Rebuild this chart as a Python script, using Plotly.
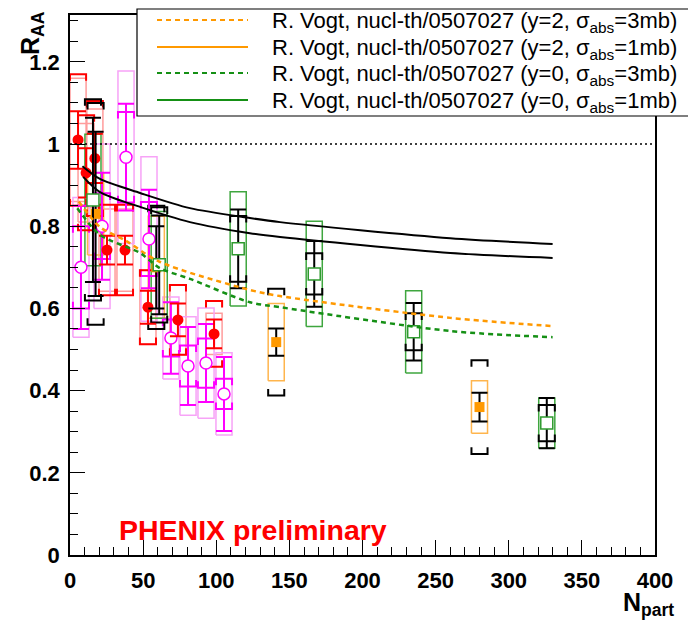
import plotly.graph_objects as go

# ---------------- data ----------------
# Cu+Cu forward rapidity (red filled circles)
cuf_npart = [5.5, 11.0, 17.0, 25.3, 37.6, 53.3, 73.8, 98.5]
cuf_raa = [1.01, 0.93, 0.965, 0.742, 0.742, 0.603, 0.572, 0.538]
cuf_stat = [0.07, 0.06, 0.06, 0.035, 0.035, 0.04, 0.04, 0.035]
cuf_sysb = [0.16, 0.14, 0.14, 0.11, 0.11, 0.09, 0.085, 0.08]
cuf_sysc = [0.15, 0.12, 0.12, 0.10, 0.10, 0.09, 0.085, 0.05]

# Cu+Cu mid rapidity (magenta open circles)
cum_npart = [7.5, 21.9, 38.3, 54.0, 69.0, 80.7, 93.0, 105.3]
cum_raa = [0.70, 0.80, 0.968, 0.769, 0.528, 0.46, 0.467, 0.392]
cum_stat = [0.15, 0.13, 0.13, 0.12, 0.087, 0.095, 0.095, 0.09]
cum_sysb = [0.10, 0.08, 0.11, 0.09, 0.045, 0.05, 0.06, 0.037]
cum_sysc = [0.17, 0.20, 0.21, 0.20, 0.10, 0.12, 0.134, 0.10]

# Au+Au forward rapidity (orange filled squares)
auf_npart = [17.5, 59.0, 141.0, 280.0]
auf_raa = [0.83, 0.70, 0.518, 0.36]
auf_stat = [0.20, 0.10, 0.033, 0.035]
auf_sysb = [0.27, 0.15, 0.13, 0.114]
auf_sysc = [0.10, 0.124, 0.094, 0.064]

# Au+Au mid rapidity (green open squares)
aum_npart = [15.7, 61.0, 115.0, 167.0, 235.0, 326.0]
aum_raa = [0.864, 0.706, 0.745, 0.684, 0.543, 0.321]
aum_stat = [0.20, 0.12, 0.096, 0.08, 0.07, 0.061]
aum_sysb = [0.245, 0.14, 0.08, 0.05, 0.045, 0.044]
aum_sysc = [0.16, 0.13, 0.139, 0.128, 0.10, 0.061]

# R. Vogt curves
v_y2_1mb_npart = [8.5, 20.5, 47.9, 82.0, 123.0, 143.6, 260.0, 330.0]
v_y2_1mb_raa = [0.946, 0.915, 0.881, 0.844, 0.820, 0.810, 0.771, 0.757]
v_y0_1mb_npart = [9.0, 20.5, 47.9, 82.0, 123.0, 143.6, 260.0, 330.0]
v_y0_1mb_raa = [0.920, 0.883, 0.847, 0.810, 0.783, 0.774, 0.735, 0.723]
v_y2_3mb_npart = [6.0, 20.5, 37.6, 61.5, 123.0, 143.6, 260.0, 330.0]
v_y2_3mb_raa = [0.860, 0.798, 0.766, 0.713, 0.645, 0.630, 0.577, 0.557]
v_y0_3mb_npart = [5.0, 20.5, 47.9, 61.5, 82.0, 123.0, 143.6, 260.0, 330.0]
v_y0_3mb_raa = [0.844, 0.779, 0.735, 0.698, 0.672, 0.615, 0.603, 0.545, 0.530]

legend_labels = [
    "R. Vogt, nucl-th/0507027 (y=2, σ<sub>abs</sub>=3mb)",
    "R. Vogt, nucl-th/0507027 (y=2, σ<sub>abs</sub>=1mb)",
    "R. Vogt, nucl-th/0507027 (y=0, σ<sub>abs</sub>=3mb)",
    "R. Vogt, nucl-th/0507027 (y=0, σ<sub>abs</sub>=1mb)",
]

x_ticks = [0, 50, 100, 150, 200, 250, 300, 350, 400]
y_ticks = [0, 0.2, 0.4, 0.6, 0.8, 1.0, 1.2]

# ---------------- styling ----------------
FONT = "Liberation Sans, Arial, Helvetica, sans-serif"
HW = 5.5      # half width of boxes / brackets (Npart units)
TK = 0.016    # bracket end tick length (RAA units)

RED, RED_L = "#ff0000", "#ff9c9c"
MAG, MAG_L = "#ff00ff", "#f7a3f7"
ORG, ORG_L = "#ff9900", "#ffb54d"
GRN, GRN_L = "#2e9a2e", "#3fa63f"
ORG_C, GRN_C = "#ff9900", "#159015"


def box_path(xs, ys, es):
    px, py = [], []
    for x, y, e in zip(xs, ys, es):
        px += [x - HW, x + HW, x + HW, x - HW, x - HW, None]
        py += [y - e, y - e, y + e, y + e, y - e, None]
    return px, py


def bracket_path(xs, ys, es):
    px, py = [], []
    for x, y, e in zip(xs, ys, es):
        px += [x - HW, x - HW, x + HW, x + HW, None]
        py += [y + e - TK, y + e, y + e, y + e - TK, None]
        px += [x - HW, x - HW, x + HW, x + HW, None]
        py += [y - e + TK, y - e, y - e, y - e + TK, None]
    return px, py


fig = go.Figure()

# boxes (global systematic)
for xs, ys, es, c in [
    (cuf_npart, cuf_raa, cuf_sysc, RED_L),
    (cum_npart, cum_raa, cum_sysc, MAG_L),
    (auf_npart, auf_raa, auf_sysc, ORG_L),
    (aum_npart, aum_raa, aum_sysc, GRN_L),
]:
    bx, by = box_path(xs, ys, es)
    fig.add_trace(go.Scatter(x=bx, y=by, mode="lines",
                             line=dict(color=c, width=1.5),
                             hoverinfo="skip", showlegend=False))

# brackets
for xs, ys, es, c in [
    (cum_npart, cum_raa, cum_sysb, MAG),
    (cuf_npart, cuf_raa, cuf_sysb, RED),
    (auf_npart, auf_raa, auf_sysb, "black"),
    (aum_npart, aum_raa, aum_sysb, "black"),
]:
    bx, by = bracket_path(xs, ys, es)
    fig.add_trace(go.Scatter(x=bx, y=by, mode="lines",
                             line=dict(color=c, width=2),
                             hoverinfo="skip", showlegend=False))

# points with statistical errors
fig.add_trace(go.Scatter(
    x=cum_npart, y=cum_raa, mode="markers",
    error_y=dict(type="data", array=cum_stat, color=MAG, thickness=2, width=8),
    marker=dict(symbol="circle", size=12, color="white",
                line=dict(color=MAG, width=1.5)),
    showlegend=False))
fig.add_trace(go.Scatter(
    x=cuf_npart, y=cuf_raa, mode="markers",
    error_y=dict(type="data", array=cuf_stat, color=RED, thickness=2, width=8),
    marker=dict(symbol="circle", size=11, color=RED),
    showlegend=False))
fig.add_trace(go.Scatter(
    x=auf_npart, y=auf_raa, mode="markers",
    error_y=dict(type="data", array=auf_stat, color="black", thickness=2, width=8),
    marker=dict(symbol="square", size=10, color=ORG),
    showlegend=False))
fig.add_trace(go.Scatter(
    x=aum_npart, y=aum_raa, mode="markers",
    error_y=dict(type="data", array=aum_stat, color="black", thickness=2, width=8),
    marker=dict(symbol="square", size=12, color="white",
                line=dict(color=GRN, width=1.5)),
    showlegend=False))

# theory curves
for xs, ys, c, d, w in [
    (v_y2_1mb_npart, v_y2_1mb_raa, "black", "solid", 2),
    (v_y0_1mb_npart, v_y0_1mb_raa, "black", "solid", 2),
    (v_y2_3mb_npart, v_y2_3mb_raa, ORG_C, "5px,4px", 2.5),
    (v_y0_3mb_npart, v_y0_3mb_raa, GRN_C, "5px,4px", 2.5),
]:
    fig.add_trace(go.Scatter(x=xs, y=ys, mode="lines",
                             line=dict(color=c, width=w, dash=d, shape="spline",
                                       smoothing=0.8),
                             hoverinfo="skip", showlegend=False))

# reference line at RAA = 1
fig.add_shape(type="line", xref="x domain", yref="y", x0=0, x1=1, y0=1, y1=1,
              line=dict(color="black", width=1.5, dash="2px,3px"))

# ---------------- manual legend (positions relative to the plot area) ----------------
W0, H0, L0, T0 = 585.0, 540.0, 70.0, 15.0


def px2x(p):
    return (p - L0) / W0


def py2y(p):
    return (T0 + H0 - p) / H0


fig.add_shape(type="rect", xref="paper", yref="paper",
              x0=px2x(137), x1=px2x(690), y0=py2y(116), y1=py2y(9),
              line=dict(color="black", width=1.2), fillcolor="white",
              layer="above")
leg_styles = [(ORG_C, "5px,4px"), (ORG_C, "solid"), (GRN_C, "5px,4px"), (GRN_C, "solid")]
rows = [20, 47, 73, 100]
for (c, d), r, lab in zip(leg_styles, rows, legend_labels):
    fig.add_shape(type="line", xref="paper", yref="paper",
                  x0=px2x(157), x1=px2x(248), y0=py2y(r), y1=py2y(r),
                  line=dict(color=c, width=2, dash=d), layer="above")
    fig.add_annotation(xref="paper", yref="paper", x=px2x(270), y=py2y(r + 2),
                       xanchor="left", yanchor="middle", showarrow=False,
                       text=lab, font=dict(family=FONT, size=22, color="black"))

# ---------------- texts ----------------
fig.add_annotation(xref="x", yref="y", x=32, y=0.061, xanchor="left",
                   yanchor="middle", showarrow=False, text="PHENIX preliminary",
                   font=dict(family=FONT, size=28.5, color="#ff0000", weight="bold"))
fig.add_annotation(xref="paper", yref="paper", x=px2x(32), y=py2y(9),
                   xanchor="center", yanchor="top", showarrow=False, textangle=-90,
                   text="R<sub>AA</sub>",
                   font=dict(family=FONT, size=25, color="black", weight="bold"))
fig.add_annotation(xref="paper", yref="paper", x=px2x(676), y=py2y(622),
                   xanchor="right", yanchor="bottom", showarrow=False,
                   text="N<sub>part</sub>",
                   font=dict(family=FONT, size=25, color="black", weight="bold"))

axis_common = dict(
    showgrid=False, zeroline=False, showline=True, linecolor="black",
    linewidth=1.5, mirror=True, ticks="inside", ticklen=15, tickwidth=1,
    tickcolor="black", automargin=False,
    tickfont=dict(family=FONT, size=22, color="black", weight="bold"),
)
fig.update_xaxes(range=[0, 400], tickvals=x_ticks,
                 ticktext=[str(v) for v in x_ticks],
                 minor=dict(dtick=10, ticks="inside", ticklen=8, tickcolor="black"),
                 ticklabelstandoff=5, **axis_common)
fig.update_yaxes(range=[0, 1.314], tickvals=y_ticks,
                 ticktext=["0", "0.2", "0.4", "0.6", "0.8", "1", "1.2"],
                 minor=dict(dtick=0.05, ticks="inside", ticklen=8, tickcolor="black"),
                 ticklabelstandoff=4, **axis_common)

# the page adds an 8 px body margin, compensated here
fig.update_layout(width=696, height=627,
                  margin=dict(l=62, r=49, t=7, b=80, pad=0, autoexpand=False),
                  paper_bgcolor="white", plot_bgcolor="white",
                  showlegend=False)

fig.write_html("out.html")
